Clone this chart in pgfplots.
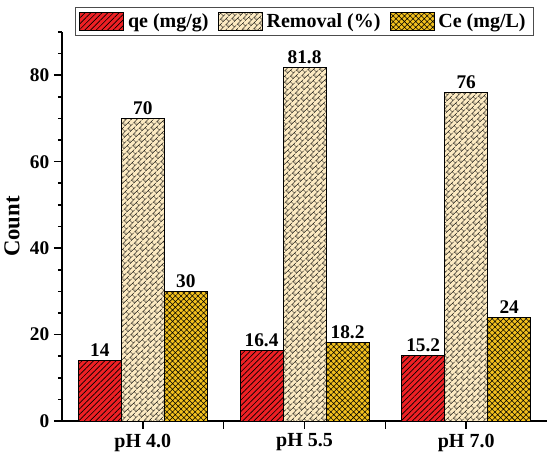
\documentclass[border=0pt]{standalone}
\usepackage{fontspec}
\setmainfont{Liberation Serif}
\usepackage{pgfplots}
\pgfplotsset{compat=1.18}
\usetikzlibrary{patterns,patterns.meta}
\definecolor{cred}{RGB}{238,32,36}
\definecolor{cbeige}{RGB}{252,234,194}
\definecolor{cgold}{RGB}{242,192,30}
\pgfdeclarepattern{
  name=rbricks,
  type=uncolored,
  bottom left={\pgfpoint{0pt}{0pt}},
  top right={\pgfpoint{6.5pt}{6pt}},
  tile size={\pgfpoint{6.5pt}{6pt}},
  tile transformation={\pgftransformrotate{45}},
  code={
    \pgfsetlinewidth{0.45pt}
    \pgfpathmoveto{\pgfpoint{0pt}{1.5pt}}\pgfpathlineto{\pgfpoint{6.5pt}{1.5pt}}
    \pgfpathmoveto{\pgfpoint{0pt}{4.5pt}}\pgfpathlineto{\pgfpoint{6.5pt}{4.5pt}}
    \pgfpathmoveto{\pgfpoint{1pt}{1.5pt}}\pgfpathlineto{\pgfpoint{1pt}{4.5pt}}
    \pgfpathmoveto{\pgfpoint{4.25pt}{4.5pt}}\pgfpathlineto{\pgfpoint{4.25pt}{6pt}}
    \pgfpathmoveto{\pgfpoint{4.25pt}{0pt}}\pgfpathlineto{\pgfpoint{4.25pt}{1.5pt}}
    \pgfusepath{stroke}
  }
}
\begin{document}
\begin{tikzpicture}
\useasboundingbox (-46.5pt,-29.25pt) rectangle (366pt,315.75pt);
\begin{axis}[
  at={(0,0)}, anchor=south west, scale only axis,
  width=363.75pt, height=291.75pt,
  ybar=0pt, bar width=32.25pt,
  xmin=-0.5, xmax=2.5, ymin=0, ymax=90,
  axis lines*=left,
  axis line style={line width=1.4pt, black},
  xtick={0,0.5,1,1.5,2},
  xticklabels={pH 4.0,,pH 5.5,,pH 7.0},
  ytick={0,20,40,60,80},
  minor ytick={5,10,15,25,30,35,45,50,55,65,70,75,85,90},
  tick align=outside,
  tick style={line width=1.2pt, black},
  major tick length=6pt, minor tick length=3pt,
  /pgf/number format/assume math mode=true,
  xticklabel style={font=\bfseries\fontsize{15}{17}\selectfont},
  yticklabel style={font=\bfseries\fontsize{14.5}{16}\selectfont},
  ylabel={Count},
  every axis y label/.style={at={(axis description cs:-0.103,0.5)}, rotate=90, anchor=center, font=\bfseries\fontsize{17}{20}\selectfont},
  nodes near coords,
  every node near coord/.append style={font=\bfseries\fontsize{14.5}{17}\selectfont, black, inner sep=2.5pt},
  legend style={at={(0.5,1)}, anchor=north, yshift=18.75pt, draw=black!70, line width=0.6pt,
    font=\bfseries\fontsize{15}{18}\selectfont, inner xsep=3pt, inner ysep=2.5pt,
    /tikz/every even column/.append style={column sep=4pt},
    nodes={inner xsep=3pt}},
  legend columns=3,
  legend image code/.code={\draw[#1, line width=0.5pt] (0pt,-7pt) rectangle (33pt,7pt);},
]
\addplot[fill=cred, draw=black, line width=0.5pt, postaction={pattern={Lines[angle=45,distance=3pt,line width=0.5pt]}, pattern color=black}]
  coordinates {(0,14) (1,16.4) (2,15.2)};
\addplot[fill=cbeige, draw=black, line width=0.5pt, postaction={pattern=rbricks, pattern color=black}]
  coordinates {(0,70) (1,81.8) (2,76)};
\addplot[fill=cgold, draw=black, line width=0.5pt, postaction={pattern={Hatch[angle=45,distance=3pt,line width=0.4pt]}, pattern color=black}]
  coordinates {(0,30) (1,18.2) (2,24)};
\legend{qe (mg/g), Removal (\%), Ce (mg/L)}
\end{axis}
\end{tikzpicture}
\end{document}
